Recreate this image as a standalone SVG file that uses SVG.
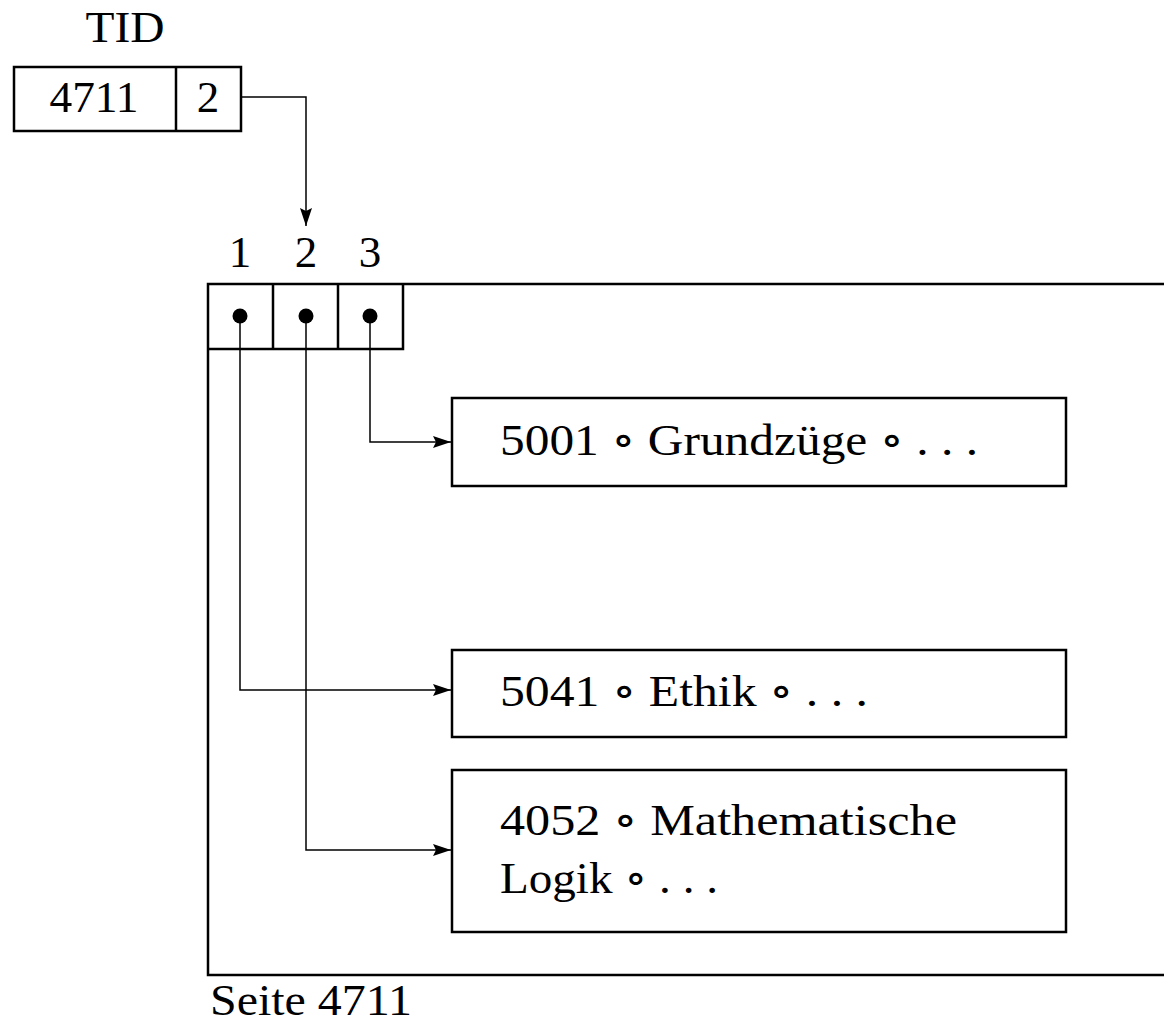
<svg xmlns="http://www.w3.org/2000/svg" width="1164" height="1025" viewBox="0 0 1164 1025">
<style>
text{font-family:"Liberation Serif","DejaVu Serif",serif;font-size:45px;fill:#000}
.c{text-anchor:middle}
.box{fill:none;stroke:#000;stroke-width:2.5}
.con{fill:none;stroke:#000;stroke-width:1.5}
</style>
<defs>
<marker id="ah" markerWidth="18" markerHeight="12" refX="18" refY="6" orient="auto" markerUnits="userSpaceOnUse">
<path d="M0,0 L18,6 L0,12 L3,6 Z" fill="#000"/>
</marker>
</defs>
<rect width="1164" height="1025" fill="#fff"/>
<g id="tid">
<text class="c" x="125" y="42" textLength="79" lengthAdjust="spacingAndGlyphs">TID</text>
<rect class="box" x="14" y="67" width="227" height="64"/>
<line class="box" x1="176" y1="67" x2="176" y2="131"/>
<text class="c" x="94" y="112" textLength="89" lengthAdjust="spacingAndGlyphs">4711</text>
<text class="c" x="208" y="112">2</text>
</g>
<g id="page">
<path class="box" d="M1164,284 H208 V975 H1164"/>
<text x="210" y="1015" textLength="202" lengthAdjust="spacingAndGlyphs">Seite 4711</text>
</g>
<g id="slots">
<text class="c" x="240" y="267">1</text>
<text class="c" x="306" y="267">2</text>
<text class="c" x="370" y="267">3</text>
<path class="box" d="M208,349 H403 V284 M273,284 V349 M338,284 V349"/>
<circle cx="240" cy="316" r="7.5"/>
<circle cx="306" cy="316" r="7.5"/>
<circle cx="370" cy="316" r="7.5"/>
</g>
<g id="rec1">
<rect class="box" x="452" y="398" width="614" height="88"/>
<text x="500" y="455" textLength="478" lengthAdjust="spacingAndGlyphs">5001 ∘ Grundzüge ∘ . . .</text>
</g>
<g id="rec2">
<rect class="box" x="452" y="650" width="614" height="87"/>
<text x="500" y="706" textLength="368" lengthAdjust="spacingAndGlyphs">5041 ∘ Ethik ∘ . . .</text>
</g>
<g id="rec3">
<rect class="box" x="452" y="770" width="614" height="162"/>
<text x="500" y="835" textLength="457" lengthAdjust="spacingAndGlyphs">4052 ∘ Mathematische</text>
<text x="500" y="893" textLength="218" lengthAdjust="spacingAndGlyphs">Logik ∘ . . .</text>
</g>
<g id="connectors">
<path class="con" d="M241,97 H306 V226" marker-end="url(#ah)"/>
<path class="con" d="M370,316 V442 H451" marker-end="url(#ah)"/>
<path class="con" d="M240,316 V690 H451" marker-end="url(#ah)"/>
<path class="con" d="M306,316 V850 H451" marker-end="url(#ah)"/>
</g>
</svg>
